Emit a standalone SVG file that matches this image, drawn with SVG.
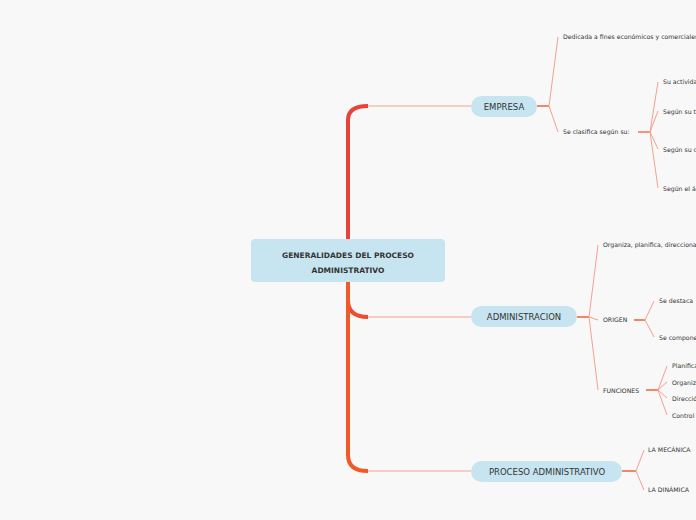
<svg xmlns="http://www.w3.org/2000/svg" width="696" height="520" viewBox="0 0 696 520">
<style>
text{font-family:"DejaVu Sans","Liberation Sans",sans-serif;fill:#333}
.s{font-size:6.2px}
.m{font-size:8.5px}
.pill{fill:#c7e5f1}
.thin{fill:none;stroke:#f4a090;stroke-width:1}
.mid{fill:none;stroke:#f0603a;stroke-width:1.3}
</style>
<rect width="696" height="520" fill="#f8f8f8"/>
<g id="connectors">
<path d="M348,260 V120 Q348,106 368,106" fill="none" stroke="#e8433b" stroke-width="4"/>
<path d="M348,260 V300 Q348,317 368,317" fill="none" stroke="#ec4c32" stroke-width="4"/>
<path d="M348,260 V455 Q348,471 368,471" fill="none" stroke="#f05a28" stroke-width="4"/>
<path class="thin" d="M368,106 H471 M368,317 H471 M368,471 H471"/>
<path class="mid" d="M537,106 H549 M577,317 H589 M622,471 H636"/>
<path class="thin" d="M549,106 L558,37 M549,106 L558,132"/>
<path class="mid" d="M638,132 H650"/>
<path class="thin" d="M650,132 L658,82 M650,132 L658,111 M650,132 L658,149 M650,132 L658,188"/>
<path class="thin" d="M589,317 L598,245 M589,317 L598,320 M589,317 L598,390"/>
<path class="mid" d="M634,320 H645 M646,390 H658"/>
<path class="thin" d="M645,320 L654,301 M645,320 L654,337"/>
<path class="thin" d="M658,390 L667,366 M658,390 L667,382 M658,390 L667,398 M658,390 L667,415"/>
<path class="thin" d="M636,471 L644,450 M636,471 L644,490"/>
</g>
<g id="root"><rect x="251" y="239" width="194" height="43" rx="4" class="pill"/>
<text x="348" y="258" font-size="7.5" font-weight="bold" text-anchor="middle">GENERALIDADES DEL PROCESO</text>
<text x="348" y="273" font-size="7.5" font-weight="bold" text-anchor="middle">ADMINISTRATIVO</text></g>
<g id="empresa"><rect x="471" y="96" width="66" height="21" rx="10.5" class="pill"/><text x="504" y="109.5" class="m" text-anchor="middle">EMPRESA</text></g>
<g id="administracion"><rect x="471" y="306" width="106" height="21" rx="10.5" class="pill"/><text x="524" y="320" class="m" text-anchor="middle">ADMINISTRACION</text></g>
<g id="proceso"><rect x="471" y="461" width="151" height="21" rx="10.5" class="pill"/><text x="547" y="475" class="m" text-anchor="middle">PROCESO ADMINISTRATIVO</text></g>
<g id="leaves">
<text x="563" y="39" class="s">Dedicada a fines económicos y comerciales</text>
<text x="563" y="134" class="s">Se clasifica según su:</text>
<text x="663" y="84" class="s">Su actividad</text>
<text x="663" y="114" class="s">Según su tamaño</text>
<text x="663" y="152" class="s">Según su capital</text>
<text x="663" y="191" class="s">Según el ámbito</text>
<text x="603" y="247" class="s">Organiza, planifica, direcciona</text>
<text x="603" y="322" class="s">ORIGEN</text>
<text x="659" y="303" class="s">Se destaca</text>
<text x="659" y="340" class="s">Se compone</text>
<text x="603" y="393" class="s">FUNCIONES</text>
<text x="672" y="368" class="s">Planificación</text>
<text x="672" y="385" class="s">Organización</text>
<text x="672" y="401" class="s">Dirección</text>
<text x="672" y="418" class="s">Control</text>
<text x="648" y="452" class="s">LA MECÁNICA</text>
<text x="648" y="492" class="s">LA DINÁMICA</text>
</g>
</svg>
